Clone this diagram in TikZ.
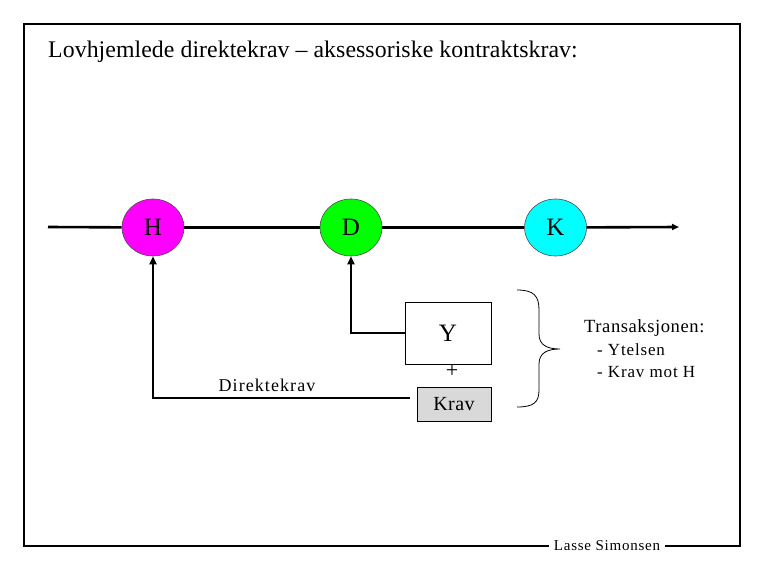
\documentclass[tikz,border=0pt]{standalone}
\usepackage{fontspec}
\setmainfont{Liberation Serif}
\usetikzlibrary{arrows.meta,shapes.geometric}
\definecolor{hmag}{RGB}{255,0,255}
\definecolor{dgreen}{RGB}{0,255,0}
\definecolor{kcyan}{RGB}{0,255,255}
\definecolor{kravgray}{RGB}{217,217,217}
\newcommand{\spaced}[1]{\addfontfeature{LetterSpace=#1}}
\tikzset{
  party/.style={ellipse, draw=black!70, line width=0.6pt, minimum width=62pt, minimum height=57pt, inner sep=0pt, font=\fontsize{25}{27}\selectfont},
  heavy/.style={line width=2.6pt},
  arr/.style={line width=2.8pt, -{Triangle[length=8pt,width=7pt]}},
  txt/.style={inner sep=0pt, anchor=west}
}
\begin{document}
\begin{tikzpicture}[x=1pt,y=-1pt]
\useasboundingbox (0,0) rectangle (765,570);
% frame
\draw[line width=1.3pt] (24,24) rectangle (740,546);
\node[fill=white, inner xsep=5pt, inner ysep=3pt, font=\fontsize{15}{17}\selectfont\spaced{5}] (sig) at (607,546) {Lasse Simonsen};
% title
\node[txt, font=\fontsize{23.8}{26}\selectfont\spaced{0.3}] (title) at (48,52) {Lovhjemlede direktekrav – aksessoriske kontraktskrav:};
% parties
\node[party, fill=hmag] (H) at (153,227.5) {H};
\node[party, fill=dgreen] (D) at (351,227.5) {D};
\node[party, fill=kcyan] (K) at (555.5,227.5) {K};
\coordinate (start) at (48,227);
\coordinate (end) at (679,227);
\draw[heavy] (start) -- (H);
\draw[heavy] (H) -- (D);
\draw[heavy] (D) -- (K);
\draw[line width=2.6pt, -{Triangle[length=7pt,width=6pt]}] (K) -- (end);
% boxes
\node[draw, line width=0.8pt, minimum width=86pt, minimum height=62pt, inner sep=0pt, font=\fontsize{25}{27}\selectfont] (Y) at (448,333) {Y};
\node[inner sep=0pt, font=\fontsize{22}{24}\selectfont] (plus) at (452,371) {+};
\node[draw, line width=0.8pt, fill=kravgray, minimum width=74pt, minimum height=34pt, inner sep=0pt, font=\fontsize{20}{22}\selectfont\spaced{2}] (Krav) at (454,404) {Krav};
% connectors
\draw[arr] (Y.west) -| (D);
\coordinate (kl) at (410,398);
\draw[arr] (kl) -| (H);
\node[inner sep=0pt, font=\fontsize{18}{20}\selectfont\spaced{6}] (dk) at (267,385) {Direktekrav};
% brace
\draw[line width=0.8pt] (517,290) .. controls (534,290) and (539,296) .. (539,310) -- (539,334)
  .. controls (539,345) and (547,349) .. (560,349)
  .. controls (547,349) and (539,353) .. (539,364) -- (539,390)
  .. controls (539,402) and (534,407) .. (517,407);
% transaction text
\node[txt, font=\fontsize{18.6}{20}\selectfont\spaced{3}] (tr) at (584,328) {Transaksjonen:};
\node[txt, font=\fontsize{17}{19}\selectfont\spaced{5}] (t1) at (597,350) {- Ytelsen};
\node[txt, font=\fontsize{17}{19}\selectfont\spaced{5}] (t2) at (597,372) {- Krav mot H};
\end{tikzpicture}
\end{document}
